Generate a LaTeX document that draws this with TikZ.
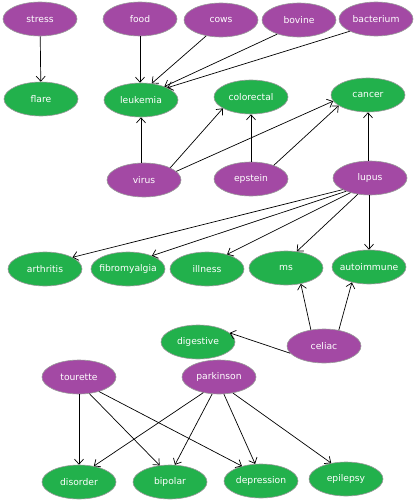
\documentclass[tikz,border=0pt]{standalone}
\usepackage{fontspec}
\setmainfont{DejaVu Sans}
\usetikzlibrary{shapes.geometric,arrows.meta}
\definecolor{pnode}{HTML}{A349A4}
\definecolor{gnode}{HTML}{22B14C}
\tikzset{
  base/.style={ellipse,draw=gray!80,line width=0.6pt,minimum width=74pt,minimum height=34pt,inner ysep=0pt,inner xsep=-5pt,text=white,font=\fontsize{9.2}{11}\selectfont},
  pn/.style={base,fill=pnode},
  gn/.style={base,fill=gnode},
  edge/.style={draw=black,line width=0.7pt,-{Straight Barb[length=5pt,width=9pt]}}
}
\begin{document}
\begin{tikzpicture}[x=1pt,y=-1pt]
\useasboundingbox (0,0) rectangle (418,503);
\node[pn] (stress) at (40,19) {stress};
\node[pn] (food) at (140,19) {food};
\node[pn] (cows) at (221,20) {cows};
\node[pn] (bovine) at (299,20) {bovine};
\node[pn] (bacterium) at (376,19) {bacterium};
\node[gn] (flare) at (41,99) {flare};
\node[gn] (leukemia) at (141,100) {leukemia};
\node[gn] (colorectal) at (251,97) {colorectal};
\node[gn] (cancer) at (368,95) {cancer};
\node[pn] (virus) at (144,180) {virus};
\node[pn] (epstein) at (251,179) {epstein};
\node[pn] (lupus) at (370,178) {lupus};
\node[gn] (arthritis) at (45,269) {arthritis};
\node[gn] (fibromyalgia) at (128,269) {fibromyalgia};
\node[gn] (illness) at (207,269) {illness};
\node[gn] (ms) at (286,268) {ms};
\node[gn] (autoimmune) at (369,267) {autoimmune};
\node[gn] (digestive) at (198,342) {digestive};
\node[pn] (celiac) at (324,346) {celiac};
\node[pn] (tourette) at (79,377) {tourette};
\node[pn] (parkinson) at (219,377) {parkinson};
\node[gn] (disorder) at (79,482) {disorder};
\node[gn] (bipolar) at (170,482) {bipolar};
\node[gn] (depression) at (261,481) {depression};
\node[gn] (epilepsy) at (346,479) {epilepsy};
\draw[edge] (stress) -- (flare);
\draw[edge] (food) -- (food|-leukemia.north);
\draw[edge] (cows.227) -- (leukemia.57);
\draw[edge] (bovine.213) -- (leukemia.30);
\draw[edge] (bacterium.205) -- (leukemia.25);
\draw[edge] (virus.north -| leukemia.south) -- (leukemia.south);
\draw[edge] (virus.25) -- (colorectal.202);
\draw[edge] (virus.15) -- (cancer.190);
\draw[edge] (epstein) -- (colorectal);
\draw[edge] (epstein.31) -- (cancer.200);
\draw[edge] (lupus.north -| cancer.south) -- (cancer.south);
\draw[edge] (lupus.203) -- (arthritis.23);
\draw[edge] (lupus.209) -- (fibromyalgia.29);
\draw[edge] (lupus.217) -- (illness.36);
\draw[edge] (lupus.233) -- (ms.57);
\draw[edge] (lupus.south -| autoimmune.north) -- (autoimmune.north);
\draw[edge] (celiac.129) -- (ms.313);
\draw[edge] (celiac.47) -- (autoimmune.222);
\draw[edge] (celiac.192) -- (digestive.16);
\draw[edge] (tourette) -- (disorder);
\draw[edge] (tourette.302) -- (bipolar.122);
\draw[edge] (tourette.324) -- (depression.142);
\draw[edge] (parkinson.225) -- (disorder.47);
\draw[edge] (parkinson.248) -- (bipolar.74);
\draw[edge] (parkinson.286) -- (depression.109);
\draw[edge] (parkinson.311) -- (epilepsy.133);
\end{tikzpicture}
\end{document}
